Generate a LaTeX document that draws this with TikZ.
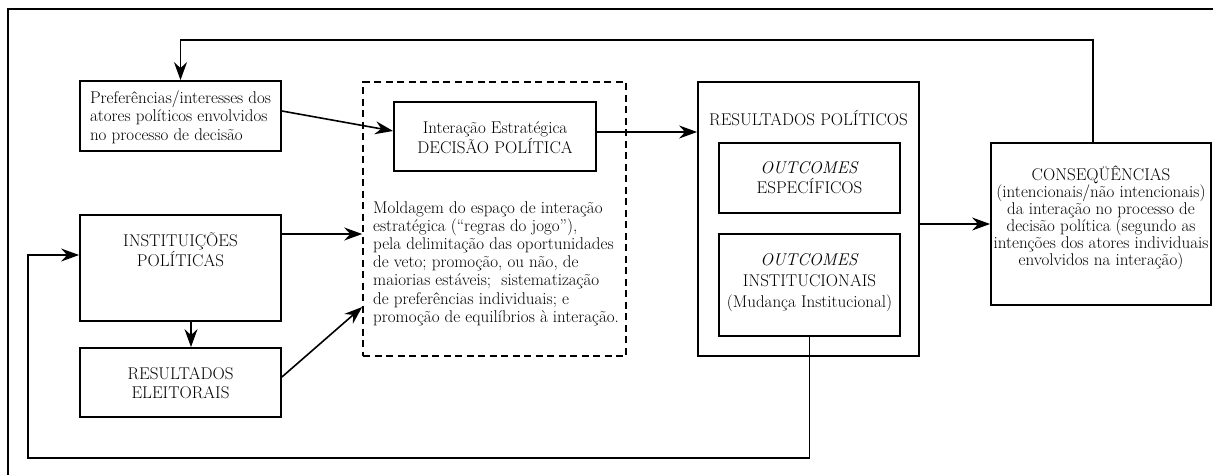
\documentclass[tikz,border=0pt]{standalone}
\usetikzlibrary{arrows.meta,calc}
\begin{document}
\begin{tikzpicture}[x=1pt,y=-1pt,
  box/.style={draw, line width=1.8pt, inner sep=0pt},
  lbl/.style={font=\fontsize{17}{20}\selectfont, align=center, inner sep=0pt},
  arr/.style={line width=1.6pt, -{Stealth[length=18pt,width=13pt,inset=6pt]}},
]
\useasboundingbox (0,0) rectangle (1213,474);
% outer frame (cut by the page on the right and bottom)
\draw[line width=2.2pt] (8,490) -- (8,9) -- (1230,9);

% boxes
\node[box, minimum width=201pt, minimum height=70pt] (pref) at (180.5,116) {};
\node[lbl, align=left, font=\fontsize{17}{18.5}\selectfont] (preftxt) at (180.5,117) {Preferências/interesses dos\\atores políticos envolvidos\\no processo de decisão};

\node[box, minimum width=201pt, minimum height=106pt] (inst) at (180.5,268) {};
\node[lbl] (insttxt) at (180.5,250) {INSTITUIÇÕES\\POLÍTICAS};

\node[box, minimum width=201pt, minimum height=69pt] (resel) at (180.5,382.5) {};
\node[lbl, font=\fontsize{17}{19.5}\selectfont] (reseltxt) at (180.5,383) {RESULTADOS\\ELEITORAIS};

\node[draw, line width=1.6pt, dash pattern=on 7pt off 4.5pt, minimum width=263pt, minimum height=274pt, inner sep=0pt] (dash) at (494.5,219) {};

\node[box, minimum width=202pt, minimum height=69pt] (inter) at (495,136.5) {};
\node[lbl] (intertxt) at (495,137.5) {Interação Estratégica\\DECISÃO POLÍTICA};

\node[lbl, align=left, anchor=north west, font=\fontsize{17}{18.2}\selectfont] (moldtxt) at (373,201) {Moldagem do espaço de interação\\
estratégica (“regras do jogo”),\\
pela delimitação das oportunidades\\
de veto; promoção, ou não, de\\
maiorias estáveis;\ \ sistematização\\
de preferências individuais; e\\
promoção de equilíbrios à interação.};

\node[box, minimum width=221pt, minimum height=274pt] (respol) at (808.5,219) {};
\node[lbl, anchor=base] (respoltxt) at (808.5,125) {RESULTADOS POLÍTICOS};

\node[box, minimum width=181pt, minimum height=70pt] (outesp) at (809.5,178) {};
\node[lbl] (outesptxt) at (809.5,178) {\textit{OUTCOMES}\\ESPECÍFICOS};

\node[box, minimum width=181pt, minimum height=102pt] (outinst) at (809.5,285) {};
\node[lbl, font=\fontsize{17}{21}\selectfont] (outinsttxt) at (809.5,283) {\textit{OUTCOMES}\\INSTITUCIONAIS\\(Mudança Institucional)};

\node[box, minimum width=220pt, minimum height=162pt] (conseq) at (1101,224) {};
\node[lbl, font=\fontsize{17}{16}\selectfont] (conseqtxt) at (1101,218) {CONSEQÜÊNCIAS\\
(intencionais/não intencionais)\\
da interação no processo de\\
decisão política (segundo as\\
intenções dos atores individuais\\
envolvidos na interação)};

% connectors
\coordinate (topy) at (0,40);
\coordinate (fbl) at (28,458);
\draw[arr] ([xshift=-8pt]conseq.north) |- (topy -| pref.north) -- (pref.north);
\draw[arr] ([yshift=5pt]pref.east) -- ([yshift=5.5pt]inter.west);
\draw[arr] ([yshift=4.5pt]inter.east) -- ([yshift=4.5pt]inter.east -| respol.west);
\draw[arr] ([yshift=34pt]inst.east) -- ([yshift=34pt]inst.east -| dash.west);
\draw[arr] ([xshift=10.5pt]inst.south) -- ([xshift=10.5pt]resel.north);
\draw[arr] ([yshift=5.5pt]resel.east) -- ([yshift=-88pt]dash.west);
\draw[arr] (conseq.west -| respol.east) -- (conseq.west);
\draw[arr, line width=1.3pt] (outinst.south) |- (fbl) |- ([yshift=13pt]inst.west);
\end{tikzpicture}
\end{document}
